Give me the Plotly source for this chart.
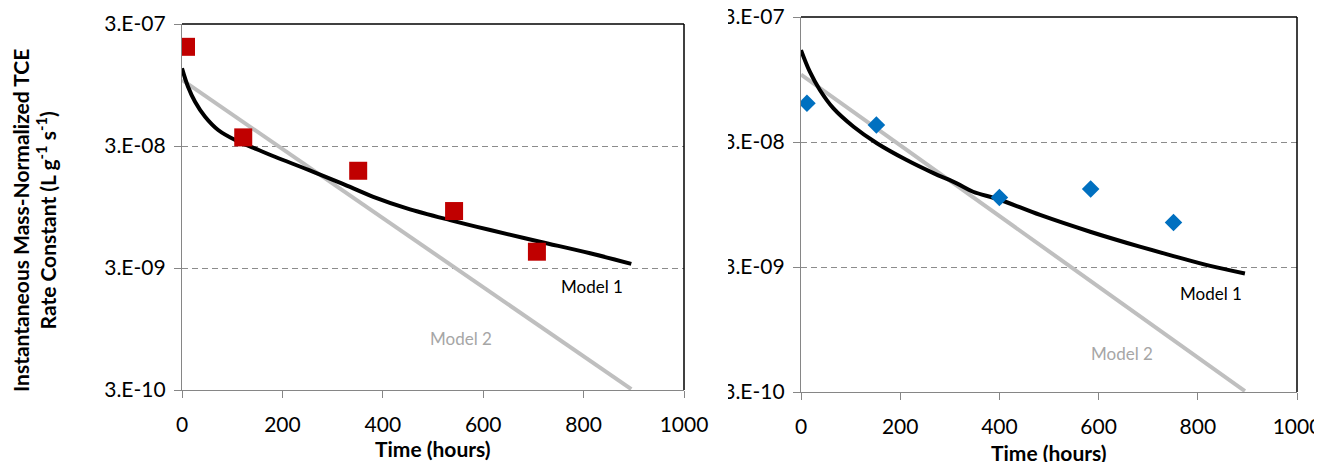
import math
import plotly.graph_objects as go

# The written page has an 8px body margin, so the figure starts at (8, 8) in the window.
PAGE_W, PAGE_H = 1322, 462
OFF = 8
W, H = PAGE_W - OFF, PAGE_H - OFF

# ---------------- data ----------------
left_obs_t = [8, 122, 351, 542, 707]
left_obs_k = [1.95e-7, 3.53e-8, 1.88e-8, 8.79e-9, 4.08e-9]

left_m1_t = [0, 12, 26, 46, 72, 106, 145, 185, 252, 318, 381, 448, 534, 614, 713, 813, 895]
left_m1_k = [1.30e-7, 9.19e-8, 6.92e-8, 5.21e-8, 4.06e-8, 3.36e-8, 2.87e-8, 2.45e-8,
             1.91e-8, 1.48e-8, 1.15e-8, 9.25e-9, 7.41e-9, 6.14e-9, 4.93e-9, 3.96e-9, 3.24e-9]

left_m2_t = [0, 895]
left_m2_k = [1.045e-7, 3.05e-10]

right_obs_t = [12, 152, 400, 584, 751]
right_obs_k = [6.13e-8, 4.10e-8, 1.08e-8, 1.26e-8, 6.80e-9]

right_m1_t = [0, 18, 38, 65, 106, 153, 213, 267, 314, 347, 398, 482, 583, 683, 751, 825, 895]
right_m1_k = [1.63e-7, 1.09e-7, 7.82e-8, 5.59e-8, 3.97e-8, 2.93e-8, 2.15e-8, 1.69e-8,
              1.40e-8, 1.20e-8, 1.045e-8, 7.82e-9, 5.74e-9, 4.36e-9, 3.67e-9, 3.06e-9, 2.66e-9]

right_m2_t = [0, 895]
right_m2_k = [1.04e-7, 3.05e-10]

x_ticks = [0, 200, 400, 600, 800, 1000]
y_tickvals = [3e-10, 3e-9, 3e-8, 3e-7]
y_ticktext = ["3.E-10", "3.E-09", "3.E-08", "3.E-07"]

# ---------------- styles ----------------
FONT = "Lato"
RED = "#C00000"
BLUE = "#0070C0"
LGRAY = "#BFBFBF"
AXGRAY = "#868686"


def px(x):
    return (x - OFF) / W


def py(y):
    return 1 - (y - OFF) / H


fig = go.Figure()


def add_panel(xa, ya, m2t, m2k, m1t, m1k, ot, ok, sym, col, msize):
    fig.add_trace(go.Scatter(x=m2t, y=m2k, mode="lines", xaxis=xa, yaxis=ya,
                             line=dict(color=LGRAY, width=4), showlegend=False, hoverinfo="skip"))
    fig.add_trace(go.Scatter(x=m1t, y=m1k, mode="lines", xaxis=xa, yaxis=ya,
                             line=dict(color="black", width=4, shape="spline", smoothing=1.0),
                             showlegend=False, hoverinfo="skip"))
    fig.add_trace(go.Scatter(x=ot, y=ok, mode="markers", xaxis=xa, yaxis=ya,
                             marker=dict(symbol=sym, color=col, size=msize, line=dict(width=0)),
                             showlegend=False))


add_panel("x", "y", left_m2_t, left_m2_k, left_m1_t, left_m1_k,
          left_obs_t, left_obs_k, "square", RED, 18)
add_panel("x2", "y2", right_m2_t, right_m2_k, right_m1_t, right_m1_k,
          right_obs_t, right_obs_k, "diamond", BLUE, 13.5)


def xaxis(domain, anchor):
    return dict(domain=domain, anchor=anchor, range=[0, 1000], tickvals=x_ticks,
                ticks="outside", ticklen=7, tickcolor=AXGRAY, tickwidth=1.3,
                showline=True, linecolor=AXGRAY, linewidth=1.3, automargin=False,
                showgrid=False, zeroline=False, ticklabelstandoff=9,
                ticklabeloverflow="allow",
                tickfont=dict(family=FONT, size=21, color="black"))


def yaxis(domain, anchor):
    return dict(domain=domain, anchor=anchor, type="log",
                range=[math.log10(3e-10), math.log10(3e-7)],
                tickvals=y_tickvals, ticktext=y_ticktext,
                ticks="outside", ticklen=7, tickcolor=AXGRAY, tickwidth=1.3,
                showline=True, linecolor=AXGRAY, linewidth=1.3, automargin=False,
                showgrid=True, gridcolor="#8C8C8C", gridwidth=1.2, griddash="6px,4px",
                zeroline=False, ticklabelstandoff=4, ticklabeloverflow="allow",
                tickfont=dict(family=FONT, size=21, color="black"))


lx = [px(182), px(684)]
rx = [px(801), px(1297)]
ly = [py(390), py(24)]
ry = [py(392), py(17)]

shapes = []
for xr, yr in (("x domain", "y domain"), ("x2 domain", "y2 domain")):
    shapes.append(dict(type="line", xref=xr, yref=yr, x0=0, x1=1, y0=1, y1=1,
                       line=dict(color="black", width=1.5), layer="above"))
    shapes.append(dict(type="line", xref=xr, yref=yr, x0=1, x1=1, y0=0, y1=1,
                       line=dict(color="black", width=1.5), layer="above"))
# the right-hand picture is cropped at its left edge
shapes.append(dict(type="rect", xref="paper", yref="paper", x0=px(709), x1=px(728),
                   y0=py(410), y1=1.0, fillcolor="white", line=dict(width=0), layer="above"))

annotations = [
    dict(text="Model 1", x=816, y=-8.671, xref="x", yref="y", showarrow=False,
         font=dict(family=FONT, size=17, color="black")),
    dict(text="Model 2", x=556, y=-9.098, xref="x", yref="y", showarrow=False,
         font=dict(family=FONT, size=17, color="#A6A6A6")),
    dict(text="Model 1", x=827, y=-8.736, xref="x2", yref="y2", showarrow=False,
         font=dict(family=FONT, size=17, color="black")),
    dict(text="Model 2", x=647, y=-9.211, xref="x2", yref="y2", showarrow=False,
         font=dict(family=FONT, size=17, color="#A6A6A6")),
    dict(text="<b>Time (hours)</b>", x=px(433), y=py(448), xref="paper", yref="paper",
         xanchor="center", yanchor="middle",
         showarrow=False, font=dict(family=FONT, size=21, color="black")),
    dict(text="<b>Time (hours)</b>", x=px(1049), y=py(452), xref="paper", yref="paper",
         xanchor="center", yanchor="middle",
         showarrow=False, font=dict(family=FONT, size=21, color="black")),
    dict(text="<b>Instantaneous Mass-Normalized TCE<br>Rate Constant (L g<sup>-1</sup> s<sup>-1</sup>)</b>",
         x=px(34), y=py(221), xref="paper", yref="paper", textangle=-90,
         xanchor="center", yanchor="middle",
         showarrow=False, font=dict(family=FONT, size=21, color="black")),
]

fig.update_layout(
    template="none",
    width=W, height=H, margin=dict(l=0, r=0, t=0, b=0, pad=0, autoexpand=False),
    paper_bgcolor="white", plot_bgcolor="white",
    xaxis=xaxis(lx, "y"), yaxis=yaxis(ly, "x"),
    xaxis2=xaxis(rx, "y2"), yaxis2=yaxis(ry, "x2"),
    shapes=shapes, annotations=annotations, showlegend=False,
)

fig.write_html("out.html")
